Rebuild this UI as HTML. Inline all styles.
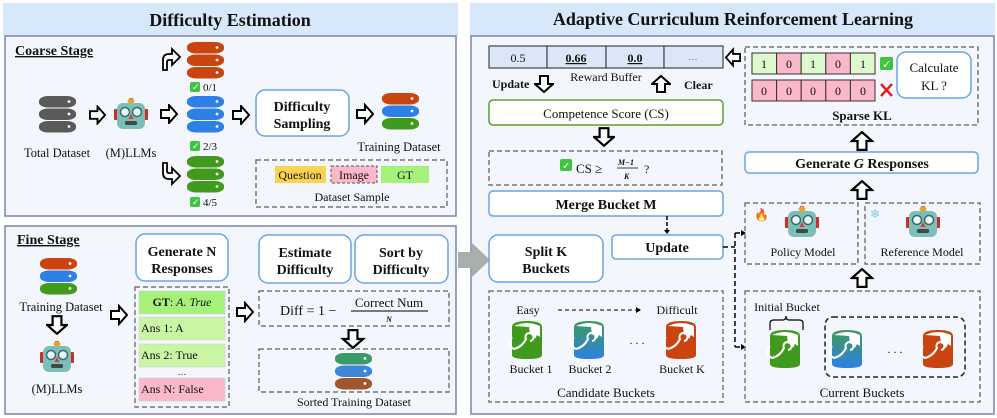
<!DOCTYPE html>
<html><head><meta charset="utf-8"><style>
html,body{margin:0;padding:0;background:#fff}
svg{display:block}
text{font-family:"Liberation Serif",serif;fill:#111}
.b{font-weight:bold}
</style></head><body>
<svg width="997" height="418" viewBox="0 0 997 418" xmlns="http://www.w3.org/2000/svg">
<defs>
<symbol id="ar" viewBox="0 0 18 20"><polygon points="1,6 9,6 9,1 17,10 9,19 9,14 1,14" fill="#fff" stroke="#000" stroke-width="2" stroke-linejoin="miter"/></symbol>
<g id="dbgray"><rect x="0" y="0" width="37" height="11.5" rx="9" ry="5" fill="#5a5a5a"/><rect x="0" y="12.5" width="37" height="11.5" rx="9" ry="5" fill="#5a5a5a"/><rect x="0" y="25" width="37" height="11.5" rx="9" ry="5" fill="#5a5a5a"/><circle cx="30" cy="5.5" r="1.4" fill="#fff"/><circle cx="30" cy="18" r="1.4" fill="#fff"/><circle cx="30" cy="30.5" r="1.4" fill="#fff"/></g>
<g id="dbred"><rect x="0" y="0" width="37" height="11.5" rx="9" ry="5" fill="#c9440f"/><rect x="0" y="12.5" width="37" height="11.5" rx="9" ry="5" fill="#c9440f"/><rect x="0" y="25" width="37" height="11.5" rx="9" ry="5" fill="#c9440f"/><circle cx="30" cy="5.5" r="1.4" fill="#fff"/><circle cx="30" cy="18" r="1.4" fill="#fff"/><circle cx="30" cy="30.5" r="1.4" fill="#fff"/></g>
<g id="dbblue"><rect x="0" y="0" width="37" height="11.5" rx="9" ry="5" fill="#2f80e6"/><rect x="0" y="12.5" width="37" height="11.5" rx="9" ry="5" fill="#2f80e6"/><rect x="0" y="25" width="37" height="11.5" rx="9" ry="5" fill="#2f80e6"/><circle cx="30" cy="5.5" r="1.4" fill="#fff"/><circle cx="30" cy="18" r="1.4" fill="#fff"/><circle cx="30" cy="30.5" r="1.4" fill="#fff"/></g>
<g id="dbgreen"><rect x="0" y="0" width="37" height="11.5" rx="9" ry="5" fill="#3f9a1d"/><rect x="0" y="12.5" width="37" height="11.5" rx="9" ry="5" fill="#3f9a1d"/><rect x="0" y="25" width="37" height="11.5" rx="9" ry="5" fill="#3f9a1d"/><circle cx="30" cy="5.5" r="1.4" fill="#fff"/><circle cx="30" cy="18" r="1.4" fill="#fff"/><circle cx="30" cy="30.5" r="1.4" fill="#fff"/></g>
<g id="dbtri"><rect x="0" y="0" width="37" height="11.5" rx="9" ry="5" fill="#c9440f"/><rect x="0" y="12.5" width="37" height="11.5" rx="9" ry="5" fill="#2f80e6"/><rect x="0" y="25" width="37" height="11.5" rx="9" ry="5" fill="#3f9a1d"/><circle cx="30" cy="5.5" r="1.4" fill="#fff"/><circle cx="30" cy="18" r="1.4" fill="#fff"/><circle cx="30" cy="30.5" r="1.4" fill="#fff"/></g>
<g id="dbsort"><rect x="0" y="0" width="37" height="11.5" rx="9" ry="5" fill="#3a9a6a"/><rect x="0" y="12.5" width="37" height="11.5" rx="9" ry="5" fill="#3f86d8"/><rect x="0" y="25" width="37" height="11.5" rx="9" ry="5" fill="#a0572c"/><circle cx="30" cy="5.5" r="1.4" fill="#fff"/><circle cx="30" cy="18" r="1.4" fill="#fff"/><circle cx="30" cy="30.5" r="1.4" fill="#fff"/></g>
<g id="robot"><rect x="15" y="0" width="4" height="5" fill="#7a5fc9"/><ellipse cx="17" cy="3" rx="3.5" ry="2.5" fill="#f0a020"/><rect x="0" y="11" width="4" height="11" rx="1" fill="#c8302c"/><rect x="30" y="11" width="4" height="11" rx="1" fill="#c8302c"/><rect x="3" y="5" width="28" height="26" rx="6" fill="#7bbfb8"/><circle cx="11" cy="14" r="4.5" fill="#e8f6f4" stroke="#3c6a68" stroke-width="1.5"/><circle cx="23" cy="14" r="4.5" fill="#e8f6f4" stroke="#3c6a68" stroke-width="1.5"/><polygon points="17,16 14.5,21 19.5,21" fill="#d83a3a"/><rect x="11" y="23" width="12" height="4" rx="1.5" fill="#3c4a4a"/></g>
<linearGradient id="gb" x1="0" y1="0" x2="0" y2="1"><stop offset="0" stop-color="#3f9a5a"/><stop offset="1" stop-color="#2f80e6"/></linearGradient>
<g id="bk"><path d="M2,6 Q2,0 17,0 Q32,0 32,6 L32,34 Q32,38 17,38 Q2,38 2,34 Z"/><path d="M4,5 Q17,-1 30,5 L30,16 L27,14 L25,18 L23,12 L20,14 L19,6 Z" fill="#fff"/><path d="M2,16 Q-4,24 4,28 Q12,26 16,18 A4,4 0 1 1 20,20" fill="none" stroke="#fff" stroke-width="2"/></g>
</defs>

<!-- LEFT PANEL -->
<rect x="3" y="3" width="455" height="33" fill="#d7e8fb"/>
<text x="230" y="26" font-size="18" class="b" text-anchor="middle">Difficulty Estimation</text>
<rect x="5" y="36" width="451" height="180" fill="#f3f6fd" stroke="#7a86aa" stroke-width="1.5"/>
<rect x="5" y="226" width="451" height="188" fill="#f3f6fd" stroke="#7a86aa" stroke-width="1.5"/>

<text x="15" y="55" font-size="14" class="b" text-decoration="underline">Coarse Stage</text>
<use href="#dbgray" x="39" y="96"/>
<text x="57" y="157" font-size="12.5" text-anchor="middle">Total Dataset</text>
<use href="#ar" x="89" y="105" width="17" height="20"/>
<use href="#robot" x="114" y="98"/>
<text x="131" y="157" font-size="12.5" text-anchor="middle">(M)LLMs</text>
<path d="M163,70 L163,60 Q163,54 169,54 L172,54 L172,49 L180,57 L172,65 L172,60 L169,60 Q167,60 167,62 L167,70 Z" fill="#fff" stroke="#000" stroke-width="1.8"/>
<use href="#ar" x="160" y="104" width="18" height="20"/>
<path d="M163,163 L163,173 Q163,179 169,179 L172,179 L172,184 L180,176 L172,168 L172,173 L169,173 Q167,173 167,171 L167,163 Z" fill="#fff" stroke="#000" stroke-width="1.8"/>
<use href="#dbred" x="187" y="42"/>
<use href="#dbblue" x="187" y="96"/>
<use href="#dbgreen" x="187" y="156"/>
<g font-size="11"><rect x="190" y="82" width="10" height="10" rx="2" fill="#3ec43e"/><text x="192" y="90" font-size="9" style="fill:#fff">✓</text><text x="203" y="91">0/1</text>
<rect x="190" y="141" width="10" height="10" rx="2" fill="#3ec43e"/><text x="192" y="149" font-size="9" style="fill:#fff">✓</text><text x="203" y="150">2/3</text>
<rect x="190" y="197" width="10" height="10" rx="2" fill="#3ec43e"/><text x="192" y="205" font-size="9" style="fill:#fff">✓</text><text x="203" y="206">4/5</text></g>
<use href="#ar" x="232" y="105" width="18" height="20"/>
<rect x="256" y="90" width="93" height="46" rx="9" fill="#fff" stroke="#6aa3e8" stroke-width="1.5"/>
<text x="302" y="111" font-size="14" class="b" text-anchor="middle">Difficulty</text>
<text x="302" y="128" font-size="14" class="b" text-anchor="middle">Sampling</text>
<use href="#ar" x="356" y="103" width="18" height="22"/>
<use href="#dbtri" x="382" y="93"/>
<text x="399" y="151" font-size="12.5" text-anchor="middle">Training Dataset</text>
<rect x="256" y="160" width="191" height="47" fill="none" stroke="#777" stroke-width="1.5" stroke-dasharray="5,3"/>
<rect x="275" y="166" width="51" height="17" fill="#fbd44f"/><text x="300" y="179" font-size="12" text-anchor="middle">Question</text>
<rect x="331" y="166" width="46" height="17" fill="#fbb8c8" stroke="#555" stroke-dasharray="3,2"/><text x="354" y="179" font-size="12" text-anchor="middle">Image</text>
<rect x="381" y="166" width="48" height="17" fill="#a5f27a"/><text x="405" y="179" font-size="12" text-anchor="middle">GT</text>
<text x="352" y="201" font-size="12" text-anchor="middle">Dataset Sample</text>

<text x="17" y="244" font-size="14" class="b" text-decoration="underline">Fine Stage</text>
<use href="#dbtri" x="40" y="258"/>
<text x="61" y="311" font-size="12.5" text-anchor="middle">Training Dataset</text>
<use href="#ar" x="47" y="314" width="20" height="22" transform="rotate(90 57 325)"/>
<use href="#robot" x="40" y="341"/>
<text x="57" y="393" font-size="12.5" text-anchor="middle">(M)LLMs</text>
<use href="#ar" x="110" y="304" width="18" height="22"/>
<rect x="136" y="234" width="92" height="47" rx="9" fill="#fff" stroke="#6aa3e8" stroke-width="1.5"/>
<text x="182" y="256" font-size="14" class="b" text-anchor="middle">Generate N</text>
<text x="182" y="273" font-size="14" class="b" text-anchor="middle">Responses</text>
<rect x="135" y="287" width="94" height="120" fill="none" stroke="#777" stroke-width="1.5" stroke-dasharray="5,3"/>
<rect x="139" y="291" width="86" height="23" fill="#a5f27a" stroke="#ccc" stroke-width="0.5"/><text x="182" y="306" font-size="12" text-anchor="middle"><tspan class="b">GT</tspan>: <tspan font-style="italic">A. True</tspan></text>
<rect x="139" y="317" width="86" height="23" fill="#c9f5a4" stroke="#ccc" stroke-width="0.5"/><text x="141" y="332" font-size="12">Ans 1: A</text>
<rect x="139" y="344" width="86" height="23" fill="#c9f5a4" stroke="#ccc" stroke-width="0.5"/><text x="141" y="359" font-size="12">Ans 2: True</text>
<text x="182" y="375" font-size="9" text-anchor="middle">…</text>
<rect x="139" y="378" width="86" height="23" fill="#fbb8c8" stroke="#ccc" stroke-width="0.5"/><text x="141" y="393" font-size="12">Ans N: False</text>
<use href="#ar" x="236" y="301" width="18" height="22"/>
<rect x="259" y="235" width="92" height="48" rx="9" fill="#fff" stroke="#6aa3e8" stroke-width="1.5"/>
<text x="305" y="257" font-size="14" class="b" text-anchor="middle">Estimate</text>
<text x="305" y="274" font-size="14" class="b" text-anchor="middle">Difficulty</text>
<rect x="355" y="235" width="93" height="48" rx="9" fill="#fff" stroke="#6aa3e8" stroke-width="1.5"/>
<text x="401" y="257" font-size="14" class="b" text-anchor="middle">Sort by</text>
<text x="401" y="274" font-size="14" class="b" text-anchor="middle">Difficulty</text>
<rect x="259" y="291" width="190" height="35" fill="none" stroke="#777" stroke-width="1.5" stroke-dasharray="5,3"/>
<text x="280" y="315" font-size="14">Diff  =  1 −</text>
<text x="389" y="307" font-size="13" text-anchor="middle">Correct Num</text>
<line x1="351" y1="311" x2="428" y2="311" stroke="#000" stroke-width="1"/>
<text x="389" y="322" font-size="8" font-style="italic" class="b" text-anchor="middle">N</text>
<use href="#ar" x="343" y="326" width="20" height="26" transform="rotate(90 353 339)"/>
<rect x="259" y="349" width="190" height="43" fill="none" stroke="#777" stroke-width="1.5" stroke-dasharray="5,3"/>
<use href="#dbsort" x="335" y="353"/>
<text x="354" y="406" font-size="12" text-anchor="middle">Sorted Training Dataset</text>

<!-- RIGHT PANEL -->
<rect x="470" y="3" width="525" height="33" fill="#d7e8fb"/>
<text x="733" y="25" font-size="18" class="b" text-anchor="middle">Adaptive Curriculum Reinforcement Learning</text>
<rect x="471" y="36" width="523" height="378" fill="#f3f6fd" stroke="#7a86aa" stroke-width="1.5"/>

<!-- big gray arrow -->
<polygon points="458,252 472,252 472,243 490,260 472,277 472,268 458,268" fill="#a8b0ae"/>

<g stroke="#444" stroke-width="1.2">
<rect x="489" y="46" width="58" height="22" fill="#dbe7f8"/><rect x="547" y="46" width="59" height="22" fill="#dbe7f8"/><rect x="606" y="46" width="58" height="22" fill="#dbe7f8"/><rect x="664" y="46" width="59" height="22" fill="#dbe7f8"/></g>
<text x="518" y="62" font-size="12" text-anchor="middle">0.5</text>
<text x="576" y="62" font-size="12" class="b" text-anchor="middle" text-decoration="underline">0.66</text>
<text x="635" y="62" font-size="12" class="b" text-anchor="middle" text-decoration="underline">0.0</text>
<text x="693" y="60" font-size="9" text-anchor="middle" style="fill:#666">…</text>
<use href="#ar" x="725" y="45" width="16" height="25" transform="rotate(180 733 57.5)"/>
<text x="606" y="81" font-size="12" text-anchor="middle">Reward Buffer</text>
<text x="492" y="88" font-size="12" class="b">Update</text>
<use href="#ar" x="534" y="74" width="20" height="20" transform="rotate(90 544 84)"/>
<use href="#ar" x="651" y="74" width="20" height="20" transform="rotate(-90 661 84)"/>
<text x="684" y="89" font-size="12" class="b">Clear</text>
<rect x="489" y="100" width="234" height="25" rx="4" fill="#fff" stroke="#5aa02c" stroke-width="1.5"/>
<text x="606" y="118" font-size="13" text-anchor="middle">Competence Score (CS)</text>
<use href="#ar" x="594" y="126" width="20" height="22" transform="rotate(90 604 137)"/>
<rect x="489" y="151" width="233" height="34" fill="none" stroke="#777" stroke-width="1.5" stroke-dasharray="5,3"/>
<rect x="560" y="159" width="12" height="12" rx="2" fill="#3ec43e"/><text x="562" y="169" font-size="10" style="fill:#fff">✓</text>
<text x="576" y="173" font-size="13">CS  ≥</text>
<text x="618" y="165" font-size="8" class="b" font-style="italic">M−1</text>
<line x1="617" y1="168" x2="638" y2="168" stroke="#000" stroke-width="0.8"/>
<text x="624" y="179" font-size="8" class="b" font-style="italic">K</text>
<text x="644" y="173" font-size="12">?</text>
<rect x="489" y="191" width="234" height="25" rx="4" fill="#fff" stroke="#6aa3e8" stroke-width="1.5"/>
<text x="606" y="209" font-size="14" class="b" text-anchor="middle">Merge Bucket M</text>
<line x1="667" y1="216" x2="667" y2="231" stroke="#000" stroke-width="1.5" stroke-dasharray="4,2"/><polygon points="664,230 670,230 667,234" fill="#000"/>
<rect x="489" y="235" width="114" height="47" rx="9" fill="#fff" stroke="#6aa3e8" stroke-width="1.5"/>
<text x="546" y="256" font-size="14" class="b" text-anchor="middle">Split K</text>
<text x="546" y="273" font-size="14" class="b" text-anchor="middle">Buckets</text>
<rect x="612" y="235" width="111" height="24" rx="4" fill="#fff" stroke="#6aa3e8" stroke-width="1.5"/>
<text x="667" y="252" font-size="14" class="b" text-anchor="middle">Update</text>
<g stroke="#000" stroke-width="1.5" stroke-dasharray="5,3" fill="none"><path d="M723,247 L735,247"/><path d="M735,233 L735,347"/><path d="M735,233 L742,233"/><path d="M735,347 L742,347"/></g>
<polygon points="741,230 746,233 741,236" fill="#000"/><polygon points="741,344 746,347 741,350" fill="#000"/>

<rect x="489" y="291" width="234" height="111" fill="none" stroke="#777" stroke-width="1.5" stroke-dasharray="5,3"/>
<text x="528" y="314" font-size="12" text-anchor="middle">Easy</text>
<line x1="558" y1="310" x2="637" y2="310" stroke="#000" stroke-width="1" stroke-dasharray="4,3"/><polygon points="636,307 641,310 636,313" fill="#000"/>
<text x="677" y="314" font-size="12" text-anchor="middle">Difficult</text>
<use href="#bk" x="510" y="321" fill="#3f9a1d"/>
<use href="#bk" x="572" y="321" fill="url(#gb)"/>
<text x="637" y="344" font-size="12" text-anchor="middle">. . .</text>
<use href="#bk" x="664" y="321" fill="#c9440f"/>
<text x="531" y="373" font-size="12" text-anchor="middle">Bucket 1</text>
<text x="590" y="373" font-size="12" text-anchor="middle">Bucket 2</text>
<text x="682" y="373" font-size="12" text-anchor="middle">Bucket K</text>
<text x="606" y="397" font-size="13" text-anchor="middle">Candidate Buckets</text>

<rect x="745" y="47" width="233" height="78" fill="none" stroke="#777" stroke-width="1.5" stroke-dasharray="5,3"/>
<g stroke="#333" stroke-width="1">
<rect x="752" y="53" width="24.6" height="21" fill="#ddf8cc"/><rect x="776.6" y="53" width="24.6" height="21" fill="#fbb8c8"/><rect x="801.2" y="53" width="24.6" height="21" fill="#ddf8cc"/><rect x="825.8" y="53" width="24.6" height="21" fill="#fbb8c8"/><rect x="850.4" y="53" width="24.6" height="21" fill="#ddf8cc"/>
<rect x="752" y="80" width="24.6" height="21" fill="#fbb8c8"/><rect x="776.6" y="80" width="24.6" height="21" fill="#fbb8c8"/><rect x="801.2" y="80" width="24.6" height="21" fill="#fbb8c8"/><rect x="825.8" y="80" width="24.6" height="21" fill="#fbb8c8"/><rect x="850.4" y="80" width="24.6" height="21" fill="#fbb8c8"/></g>
<g font-size="12" text-anchor="middle"><text x="764" y="68">1</text><text x="789" y="68">0</text><text x="813" y="68">1</text><text x="838" y="68">0</text><text x="863" y="68">1</text>
<text x="764" y="95">0</text><text x="789" y="95">0</text><text x="813" y="95">0</text><text x="838" y="95">0</text><text x="863" y="95">0</text></g>
<rect x="880" y="57" width="13" height="13" rx="2" fill="#3ec43e"/><text x="882" y="68" font-size="11" style="fill:#fff">✓</text>
<path d="M881,84 L892,96 M892,84 L881,96" stroke="#e02020" stroke-width="2.5"/>
<rect x="897" y="52" width="74" height="46" rx="9" fill="#fff" stroke="#6aa3e8" stroke-width="1.5"/>
<text x="934" y="72" font-size="13" text-anchor="middle">Calculate</text>
<text x="934" y="90" font-size="13" text-anchor="middle">KL ?</text>
<text x="862" y="120" font-size="13" class="b" text-anchor="middle">Sparse KL</text>
<use href="#ar" x="852" y="129" width="20" height="24" transform="rotate(-90 862 141)"/>
<rect x="745" y="152" width="233" height="21" rx="4" fill="#fff" stroke="#6aa3e8" stroke-width="1.5"/>
<text x="862" y="168" font-size="14" class="b" text-anchor="middle">Generate <tspan font-style="italic">G</tspan> Responses</text>
<use href="#ar" x="852" y="178" width="20" height="24" transform="rotate(-90 862 190)"/>
<rect x="745" y="203" width="113" height="61" fill="none" stroke="#777" stroke-width="1.5" stroke-dasharray="5,3"/>
<rect x="865" y="203" width="115" height="61" fill="none" stroke="#777" stroke-width="1.5" stroke-dasharray="5,3"/>
<text x="754" y="219" font-size="12">🔥</text>
<text x="870" y="218" font-size="12" style="fill:#7cc8ee">❄</text>
<use href="#robot" x="785" y="206"/>
<use href="#robot" x="906" y="206"/>
<text x="803" y="256" font-size="12" text-anchor="middle">Policy Model</text>
<text x="922" y="256" font-size="12" text-anchor="middle">Reference Model</text>
<use href="#ar" x="852" y="266" width="20" height="24" transform="rotate(-90 862 278)"/>
<rect x="745" y="291" width="235" height="111" fill="none" stroke="#777" stroke-width="1.5" stroke-dasharray="5,3"/>
<text x="787" y="311" font-size="12" text-anchor="middle">Initial Bucket</text>
<path d="M770,330 L770,323 Q770,320 774,320 L783,320 Q786,320 786,316 Q786,320 789,320 L799,320 Q803,320 803,323 L803,330" fill="none" stroke="#000" stroke-width="1.2"/>
<use href="#bk" x="768" y="330" fill="#3f9a1d"/>
<rect x="825" y="317" width="140" height="60" rx="8" fill="none" stroke="#222" stroke-width="1.5" stroke-dasharray="5,3"/>
<use href="#bk" x="830" y="330" fill="url(#gb)"/>
<text x="895" y="353" font-size="12" text-anchor="middle">. . .</text>
<use href="#bk" x="921" y="330" fill="#c9440f"/>
<text x="862" y="397" font-size="13" text-anchor="middle">Current Buckets</text>
</svg>
</body></html>
